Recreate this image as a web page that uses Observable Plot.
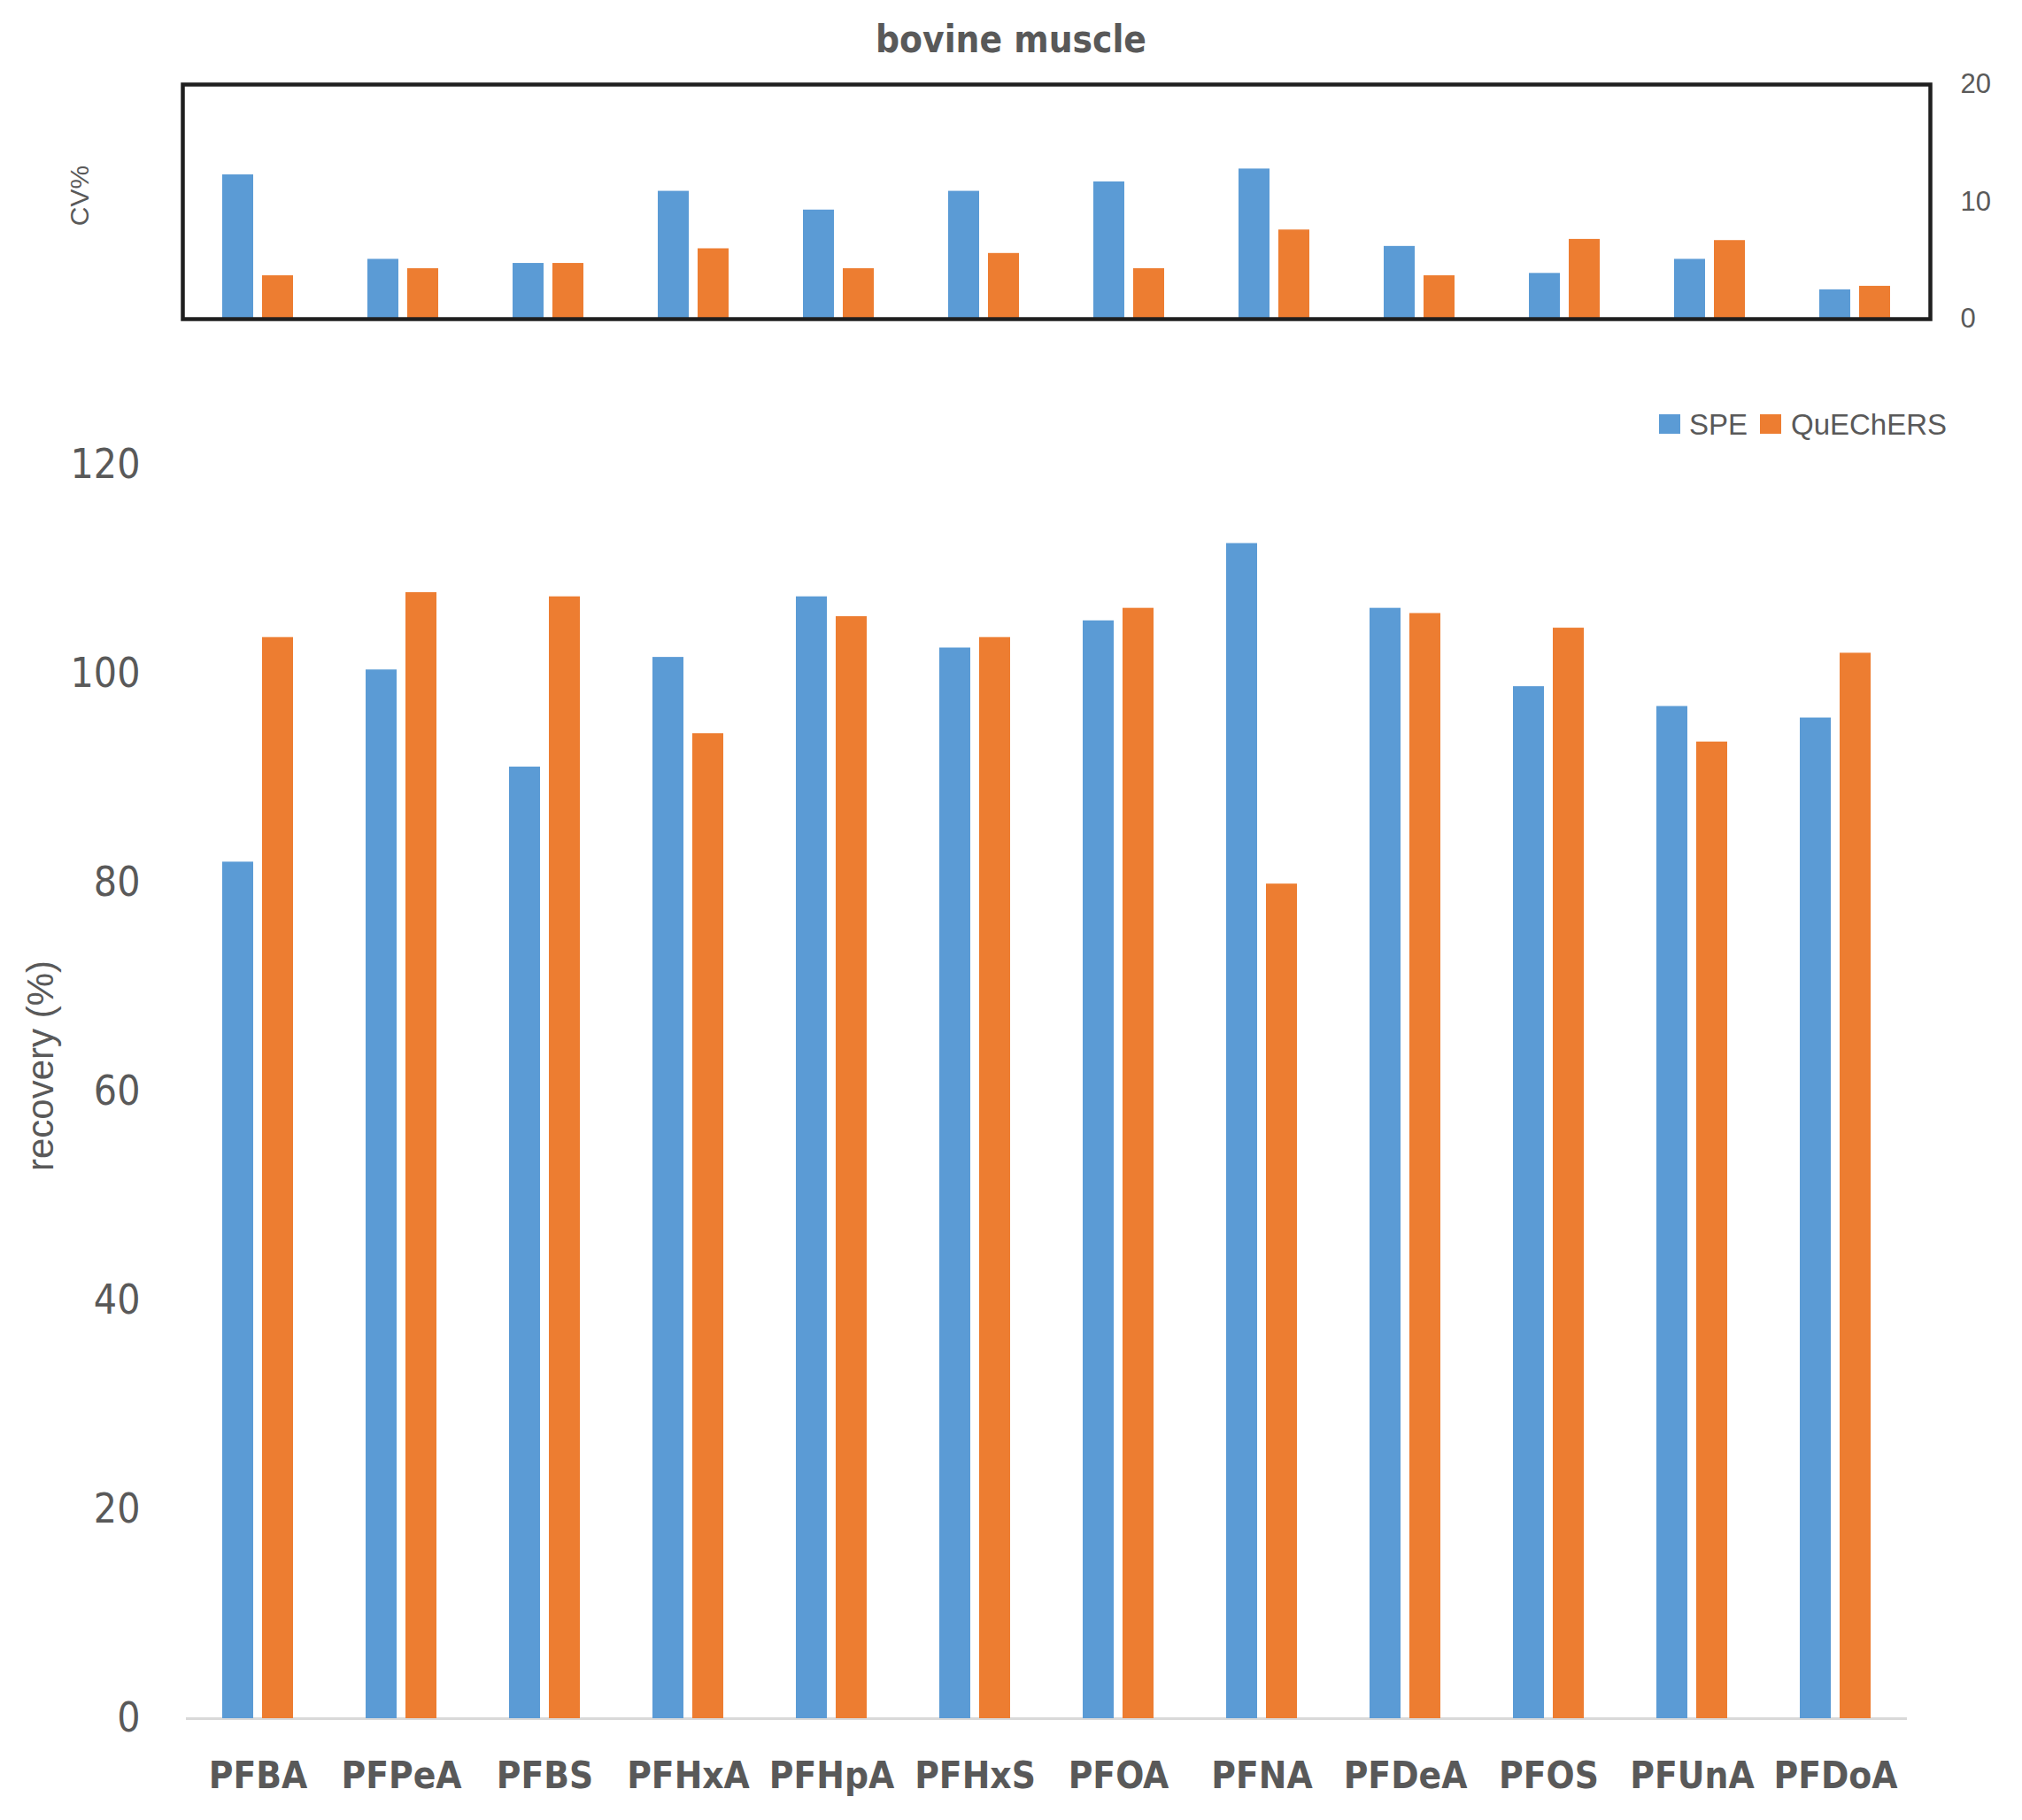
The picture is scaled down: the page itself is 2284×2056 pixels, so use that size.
<!DOCTYPE html>
<html>
<head>
<meta charset="utf-8">
<script src="https://cdn.jsdelivr.net/npm/d3@7"></script>
<script src="https://cdn.jsdelivr.net/npm/@observablehq/plot@0.6"></script>
<style>
html, body { margin: 0; padding: 0; background: #ffffff; }
#wrap { position: relative; width: 2284px; height: 2056px; overflow: hidden; background: #ffffff; }
#wrap svg { position: absolute; left: 0; max-width: none; }
.mainplot g[aria-label^="fx-axis"] text { font-weight: bold; font-size: 42px; }
</style>
</head>
<body>
<div id="wrap"></div>
<script>
// ---------- data ----------
const categories = ["PFBA", "PFPeA", "PFBS", "PFHxA", "PFHpA", "PFHxS", "PFOA", "PFNA", "PFDeA", "PFOS", "PFUnA", "PFDoA"];
const series = ["SPE", "QuEChERS"];
const recoverySPE = [82.0, 100.4, 91.1, 101.6, 107.4, 102.5, 105.1, 112.5, 106.3, 98.8, 96.9, 95.8];
const recoveryQuE = [103.5, 107.8, 107.4, 94.3, 105.5, 103.5, 106.3, 79.9, 105.8, 104.4, 93.5, 102.0];
const cvSPE = [12.3, 5.1, 4.75, 10.9, 9.3, 10.9, 11.7, 12.8, 6.2, 3.9, 5.1, 2.5];
const cvQuE = [3.7, 4.3, 4.75, 6.0, 4.3, 5.6, 4.3, 7.6, 3.7, 6.8, 6.7, 2.8];
const recoveryTicks = [0, 20, 40, 60, 80, 100, 120];
const cvTicks = [0, 10, 20];
const titleText = "bovine muscle";
const cvLabel = "CV%";
const recoveryLabel = "recovery (%)";
const seriesColors = ["#5B9BD5", "#ED7D31"];

// ---------- tables ----------
const cvRows = categories.flatMap((c, i) => [
  {category: c, series: series[0], value: cvSPE[i]},
  {category: c, series: series[1], value: cvQuE[i]}
]);
const recRows = categories.flatMap((c, i) => [
  {category: c, series: series[0], value: recoverySPE[i]},
  {category: c, series: series[1], value: recoveryQuE[i]}
]);

const FONT = '"Liberation Sans", Arial, sans-serif';
const FONT_NARROW = '"Liberation Sans Narrow", "DejaVu Sans Condensed", "Liberation Sans", sans-serif';
const TEXT = "#595959";
const W = 2284;
const wrap = document.getElementById("wrap");

// ---------- top panel (CV%) ----------
const topBars = Plot.plot({
  width: W, height: 420,
  marginTop: 95, marginBottom: 60, marginLeft: 206, marginRight: 104,
  style: {fontFamily: FONT, fontSize: "31px", color: TEXT, background: "transparent"},
  fx: {domain: categories, padding: 0, axis: null, label: null},
  x: {domain: series, paddingInner: 0.217, paddingOuter: 0.897, axis: null},
  y: {domain: [0, 20], ticks: cvTicks, axis: "right", tickSize: 0, tickPadding: 37, label: null},
  color: {domain: series, range: seriesColors},
  marks: [
    Plot.barY(cvRows, {fx: "category", x: "series", y: "value", fill: "series"})
  ]
});
topBars.style.top = "0px";
wrap.appendChild(topBars);

const topFrame = Plot.plot({
  width: W, height: 420,
  marginTop: 95, marginBottom: 60, marginLeft: 206, marginRight: 104,
  style: {background: "transparent"},
  x: {domain: [0, 1], axis: null},
  y: {domain: [0, 20], axis: null},
  marks: [Plot.frame({stroke: "#1f1f1f", strokeWidth: 4.5})]
});
topFrame.style.top = "0px";
wrap.appendChild(topFrame);

// ---------- main panel (recovery) ----------
const main = Plot.plot({
  width: W, height: 1636,
  marginTop: 105, marginBottom: 115, marginLeft: 208, marginRight: 128,
  className: "mainplot",
  style: {fontFamily: FONT_NARROW, fontSize: "46px", color: TEXT, background: "transparent"},
  fx: {domain: categories, padding: 0, axis: "bottom", tickSize: 0, tickPadding: 49, label: null},
  x: {domain: series, paddingInner: 0.217, paddingOuter: 0.873, axis: null},
  y: {domain: [0, 120], ticks: recoveryTicks, tickSize: 0, tickPadding: 52, label: null},
  color: {domain: series, range: seriesColors},
  marks: [
    Plot.ruleY([0], {stroke: "#D9D9D9", strokeWidth: 3}),
    Plot.barY(recRows, {fx: "category", x: "series", y: "value", fill: "series"})
  ]
});
main.style.top = "420px";
wrap.appendChild(main);

// ---------- titles, axis titles, legend ----------
const ov = d3.create("svg")
  .attr("width", W).attr("height", 2056)
  .attr("viewBox", `0 0 ${W} 2056`)
  .style("top", "0px")
  .style("pointer-events", "none");

ov.append("text")
  .attr("x", 1142).attr("y", 59)
  .attr("text-anchor", "middle")
  .attr("font-family", FONT_NARROW).attr("font-weight", "bold").attr("font-size", 42)
  .attr("fill", TEXT)
  .text(titleText);

ov.append("text")
  .attr("transform", "translate(100,221) rotate(-90)")
  .attr("text-anchor", "middle")
  .attr("font-family", FONT).attr("font-size", 30)
  .attr("fill", TEXT)
  .text(cvLabel);

ov.append("text")
  .attr("transform", "translate(60,1204) rotate(-90)")
  .attr("text-anchor", "middle")
  .attr("font-family", FONT).attr("font-size", 42)
  .attr("fill", TEXT)
  .text(recoveryLabel);

const legend = [
  {name: series[0], color: seriesColors[0], sx: 1874, tx: 1908},
  {name: series[1], color: seriesColors[1], sx: 1988, tx: 2023}
];
legend.forEach(l => {
  ov.append("rect").attr("x", l.sx).attr("y", 468).attr("width", 24).attr("height", 22).attr("fill", l.color);
  ov.append("text").attr("x", l.tx).attr("y", 491)
    .attr("font-family", FONT).attr("font-size", 33).attr("fill", TEXT)
    .text(l.name);
});

wrap.appendChild(ov.node());
</script>
</body>
</html>
